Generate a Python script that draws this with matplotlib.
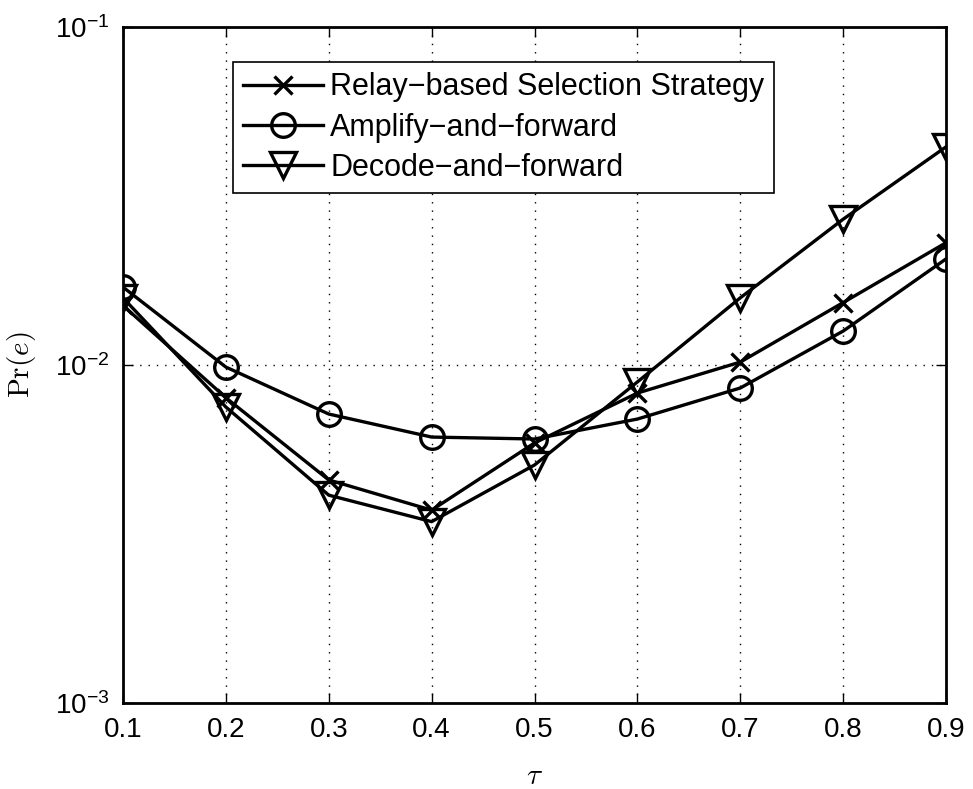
import numpy as np
import matplotlib
matplotlib.use('Agg')
import matplotlib.pyplot as plt
from matplotlib import rcParams

rcParams['font.family'] = ['Liberation Sans', 'DejaVu Sans']

# 数据
tau = [0.1, 0.2, 0.3, 0.4, 0.5, 0.6, 0.7, 0.8, 0.9]
relay = [0.0150, 0.0080, 0.00457, 0.00372, 0.00588, 0.00826, 0.0102, 0.0153, 0.0230]
amplify = [0.0170, 0.00986, 0.00716, 0.00612, 0.00604, 0.00692, 0.00855, 0.0126, 0.0206]
decode = [0.0158, 0.00751, 0.00412, 0.00344, 0.00506, 0.00891, 0.0158, 0.0270, 0.0442]
labels = ['Relay\u2212based Selection Strategy', 'Amplify\u2212and\u2212forward', 'Decode\u2212and\u2212forward']
xtick_labels = ['0.1', '0.2', '0.3', '0.4', '0.5', '0.6', '0.7', '0.8', '0.9']

fig = plt.figure(figsize=(9.73, 7.89), dpi=100)
ax = fig.add_axes([0.1264, 0.109, 0.8459, 0.8568])

lw = 2.4
ax.plot(tau, relay, color='black', linewidth=lw, marker='x', markersize=13,
        markeredgewidth=lw, label=labels[0])
ax.plot(tau, amplify, color='black', linewidth=lw, marker='o', markersize=17,
        markerfacecolor='none', markeredgewidth=lw, label=labels[1])
ax.plot(tau, decode, color='black', linewidth=lw, marker='v', markersize=19,
        markerfacecolor='none', markeredgewidth=lw, label=labels[2])

ax.set_yscale('log')
ax.set_ylim(1e-3, 1e-1)
ax.set_xlim(0.1, 0.9)
ax.set_xticks(tau)
ax.set_xticklabels(xtick_labels)
ax.set_yticks([1e-3, 1e-2, 1e-1])
ax.minorticks_off()

ax.tick_params(axis='both', which='both', direction='in', top=True, right=True,
               length=7, width=1, labelsize=20, pad=10)
for s in ax.spines.values():
    s.set_linewidth(2)

ax.grid(True, which='major', linestyle=(0, (1, 5)), color='black', linewidth=1)

ax.set_xlabel(r'$\tau$', fontsize=21, math_fontfamily='cm', labelpad=14)
ax.set_ylabel(r'$\mathrm{Pr}(e)$', fontsize=21, math_fontfamily='cm', labelpad=12)

leg = ax.legend(loc='upper left', bbox_to_anchor=(0.1337, 0.948), borderaxespad=0,
                fontsize=22, fancybox=False, edgecolor='black', framealpha=1,
                handlelength=2.6, handletextpad=0.25, labelspacing=0.34, borderpad=0.33)
leg.get_frame().set_linewidth(1.2)

plt.savefig('out.png', dpi=100)
